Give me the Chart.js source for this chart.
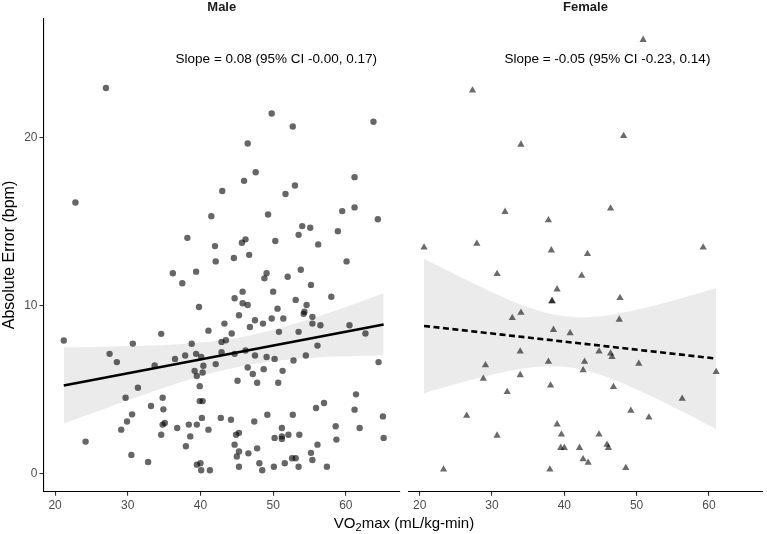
<!DOCTYPE html>
<html><head><meta charset="utf-8">
<script src="https://cdn.jsdelivr.net/npm/chart.js@4.4.1/dist/chart.umd.min.js"></script>
<style>
html,body{margin:0;padding:0;background:#fff;width:767px;height:534px;overflow:hidden;}
#wrap{position:relative;width:767px;height:534px;font-family:"Liberation Sans",Arial,Helvetica,sans-serif;}
#c1{position:absolute;left:0;top:0;width:404px;height:534px;}
#c2{position:absolute;left:404px;top:0;width:363px;height:534px;}
#xtitle{position:absolute;left:204px;width:400px;top:514px;line-height:17px;text-align:center;font-size:15px;color:#000;}
#xtitle sub{font-size:11px;line-height:0;vertical-align:-3px;}
</style></head><body>
<div id="wrap">
<canvas id="c1" width="404" height="534"></canvas>
<canvas id="c2" width="363" height="534"></canvas>
<div id="xtitle">VO<sub>2</sub>max (mL/kg-min)</div>
</div>
<script>
// ---- axis ticks / ranges ----
const xTicks = [20, 30, 40, 50, 60];
const yTicks = [0, 10, 20];
const X_MIN = 18.41, X_MAX = 67.45;
const Y_MIN = -1.08, Y_MAX = 27.08;

// ---- panel labels / annotations ----
const panelTitles = ['Male', 'Female'];
const slopeTexts = ['Slope = 0.08 (95% CI -0.00, 0.17)', 'Slope = -0.05 (95% CI -0.23, 0.14)'];
const slopeAnchorX = [64.3, 60.2];
const slopeAnchorY = [24.67, 24.67];

// ---- Male points ----
const maleVO2 = [27.0,22.8,49.8,52.7,63.8,46.5,47.6,46.0,43.0,61.2,51.7,53.0,41.5,49.3,59.5,61.2,64.4,54.0,55.1,58.9,53.5,38.2,46.2,45.7,50.3,42.0,56.2,46.7,44.6,42.1,60.1,
36.2,39.4,49.1,48.8,52.0,53.8,37.5,55.2,45.8,50.0,44.7,58.0,53.1,45.8,46.5,39.8,54.6,54.3,54.2,45.3,50.6,43.3,47.5,46.8,48.6,49.8,51.4,55.4,55.4,56.5,60.5,62.7,50.8,53.5,44.3,41.1,34.6,21.2,30.7,42.9,43.5,38.8,56.1,42.9,39.4,40.1,37.9,36.5,33.7,42.1,40.4,40.3,39.2,39.5,27.5,28.5,44.7,46.2,47.5,49.1,50.2,52.8,54.5,46.5,47.2,48.7,51.3,45.1,47.8,50.7,64.5,39.9,31.4,29.7,34.8,39.9,40.3,33.2,34.9,30.6,29.9,29.1,34.8,35.1,36.8,38.4,39.5,40.2,42.8,44.2,41.1,34.6,38.6,38.0,24.2,30.5,32.8,39.5,40.0,40.1,41.3,47.4,49.2,52.7,57.0,55.9,61.4,61.2,65.1,51.2,58.6,61.9,44.9,45.3,50.2,51.2,51.2,52.1,53.6,58.7,65.2,44.7,56.1,45.3,45.0,46.6,47.8,55.2,52.6,53.1,55.4,48.1,51.6,45.3,48.5,50.1,53.5,57.4];
const maleErr = [22.93,16.12,21.42,20.64,20.93,19.63,17.92,17.41,16.81,17.63,16.63,17.13,15.31,15.41,15.61,15.83,15.13,14.72,14.62,14.42,14.20,14.02,13.93,13.73,13.83,13.53,13.63,13.01,12.82,12.62,12.62,
11.91,12.01,11.91,11.61,11.71,12.12,11.32,11.22,10.82,10.82,10.43,10.52,10.33,10.13,10.03,9.91,10.03,9.63,9.50,9.42,9.81,8.92,9.12,8.72,8.92,9.22,9.22,9.32,8.92,8.82,8.82,8.33,8.43,8.43,8.33,8.50,8.31,7.91,7.73,7.83,7.93,7.72,7.61,7.22,7.12,6.93,7.02,6.82,6.43,6.51,6.41,6.01,6.11,5.80,7.12,6.63,7.12,7.32,7.02,6.93,6.82,6.72,7.02,6.31,5.92,6.21,6.11,5.52,5.40,5.40,6.63,5.20,5.10,4.51,4.51,4.31,4.31,4.02,3.82,3.52,3.10,2.61,2.91,3.01,2.71,2.91,2.91,3.31,3.31,3.20,2.61,2.31,2.21,1.62,1.90,1.11,0.69,0.53,0.61,0.20,0.20,3.10,3.50,3.50,4.20,3.90,4.71,3.80,3.40,2.71,2.81,2.71,2.31,2.42,2.12,2.21,2.06,2.31,2.31,2.02,2.12,1.72,1.72,1.31,1.01,1.20,1.50,1.23,0.91,0.91,0.81,0.61,0.61,0.40,0.20,0.40,0.40,0.40];

// ---- Female points ----
const femaleVO2 = [50.9,27.3,34.0,48.2,31.8,46.4,37.8,20.6,27.9,38.2,43.2,59.2,
30.7,42.4,39.0,38.3,38.3,47.7,34.0,32.8,47.6,38.5,40.8,33.9,44.8,46.4,46.6,29.1,37.8,42.8,50.3,42.6,28.8,33.9,61.0,38.1,46.8,32.1,56.3,26.5,49.2,51.7,39.0,30.7,39.6,44.8,39.5,40.0,42.1,45.9,46.1,42.6,43.3,23.3,38.0,48.5];
const femaleErr = [25.80,22.79,19.57,20.08,15.57,15.77,15.07,13.45,13.67,13.28,13.06,13.45,
11.87,11.77,10.96,10.25,10.25,10.45,9.57,9.26,9.16,8.55,8.35,7.26,7.26,7.14,6.94,6.45,6.65,6.65,6.53,6.15,5.64,5.86,6.04,5.24,5.15,4.85,4.45,3.44,3.74,3.34,2.93,2.26,2.33,2.33,1.53,1.53,1.53,1.72,1.53,0.85,0.65,0.24,0.24,0.34];

// ---- Fitted lines ----
const maleLineX = [21.2, 65.2];
const maleLineY = [5.24, 8.87];
const femaleLineX = [20.6, 61.0];
const femaleLineY = [8.78, 6.84];

// ---- 95% CI bands ----
const maleBandX     = [21.2, 25, 30, 35, 40, 45, 50, 55, 60, 65.2];
const maleBandLower = [2.97, 3.57, 4.36, 5.11, 5.79, 6.33, 6.69, 6.88, 6.97, 7.03];
const maleBandUpper = [7.51, 7.53, 7.58, 7.65, 7.79, 8.07, 8.55, 9.18, 9.91, 10.73];
const femaleBandX     = [20.6, 25, 30, 35, 40, 45, 50, 55, 61.0];
const femaleBandLower = [4.78, 5.32, 5.87, 6.29, 6.35, 5.87, 5.00, 3.98, 2.65];
const femaleBandUpper = [12.78, 11.82, 10.79, 9.89, 9.35, 9.35, 9.74, 10.28, 11.03];

const FONT = '"Liberation Sans", Arial, Helvetica, sans-serif';
Chart.defaults.font.family = FONT;
Chart.defaults.color = '#4D4D4D';

function pts(xs, ys) { return xs.map((x, i) => ({ x: x, y: ys[i] })); }

const slopeLabel = {
  id: 'slopeLabel',
  afterDatasetsDraw(chart, args, opts) {
    const ctx = chart.ctx, xs = chart.scales.x, ys = chart.scales.y;
    ctx.save();
    ctx.font = '13.5px ' + FONT;
    ctx.fillStyle = '#000';
    ctx.textAlign = 'right';
    ctx.textBaseline = 'middle';
    ctx.fillText(opts.text, xs.getPixelForValue(opts.x), ys.getPixelForValue(opts.y));
    ctx.restore();
  }
};

function xScale() {
  return {
    type: 'linear', min: X_MIN, max: X_MAX,
    afterBuildTicks: s => { s.ticks = xTicks.map(v => ({ value: v })); },
    afterFit: s => { s.height = 42.3; },
    border: { display: true, color: '#000', width: 1.1 },
    grid: { display: true, drawOnChartArea: false, drawTicks: true, tickLength: 4, color: '#333', lineWidth: 1.1 },
    ticks: { color: '#4D4D4D', font: { size: 12 }, padding: 3, maxRotation: 0 }
  };
}

function bandSets(bx, lo, hi) {
  return [
    { type: 'line', data: pts(bx, hi), borderColor: 'rgba(0,0,0,0)', borderWidth: 0, pointRadius: 0,
      fill: '+1', backgroundColor: '#EBEBEB', tension: 0.35, order: 2 },
    { type: 'line', data: pts(bx, lo), borderColor: 'rgba(0,0,0,0)', borderWidth: 0, pointRadius: 0,
      fill: false, tension: 0.35, order: 3 }
  ];
}

// Male panel
new Chart(document.getElementById('c1'), {
  type: 'scatter',
  data: { datasets: [
    { type: 'line', data: pts(maleLineX, maleLineY), borderColor: '#000', borderWidth: 2.6, pointRadius: 0, fill: false, order: 0 },
    { type: 'scatter', data: pts(maleVO2, maleErr), backgroundColor: 'rgba(0,0,0,0.6)', borderWidth: 0, pointRadius: 3.2, order: 1 }
  ].concat(bandSets(maleBandX, maleBandLower, maleBandUpper)) },
  options: {
    responsive: false, animation: false, events: [],
    layout: { padding: { top: 0, left: 0, right: 4, bottom: 0 } },
    plugins: {
      legend: { display: false }, tooltip: { enabled: false },
      title: { display: true, text: panelTitles[0], fullSize: false, color: '#1A1A1A',
               font: { size: 13, weight: 'bold' }, padding: { top: 0, bottom: 2.7 } },
      slopeLabel: { text: slopeTexts[0], x: slopeAnchorX[0], y: slopeAnchorY[0] }
    },
    scales: {
      x: xScale(),
      y: {
        type: 'linear', min: Y_MIN, max: Y_MAX,
        afterBuildTicks: s => { s.ticks = yTicks.map(v => ({ value: v })); },
        afterFit: s => { s.width = 43.5; },
        border: { display: true, color: '#000', width: 1.1 },
        grid: { display: true, drawOnChartArea: false, drawTicks: true, tickLength: 4, color: '#333', lineWidth: 1.1 },
        ticks: { color: '#4D4D4D', font: { size: 12 }, padding: 2 },
        title: { display: true, text: 'Absolute Error (bpm)', color: '#000', font: { size: 16 }, padding: { top: 0, bottom: 0 } }
      }
    }
  },
  plugins: [slopeLabel]
});

// Female panel
new Chart(document.getElementById('c2'), {
  type: 'scatter',
  data: { datasets: [
    { type: 'line', data: pts(femaleLineX, femaleLineY), borderColor: '#000', borderWidth: 2.6, borderDash: [6, 3.5], pointRadius: 0, fill: false, order: 0 },
    { type: 'scatter', data: pts(femaleVO2, femaleErr), backgroundColor: 'rgba(0,0,0,0.58)', borderWidth: 0, pointRadius: 4.2, pointStyle: 'triangle', order: 1 }
  ].concat(bandSets(femaleBandX, femaleBandLower, femaleBandUpper)) },
  options: {
    responsive: false, animation: false, events: [],
    layout: { padding: { top: 0, left: 3.3, right: 2, bottom: 0 } },
    plugins: {
      legend: { display: false }, tooltip: { enabled: false },
      title: { display: true, text: panelTitles[1], fullSize: false, color: '#1A1A1A',
               font: { size: 13, weight: 'bold' }, padding: { top: 0, bottom: 2.7 } },
      slopeLabel: { text: slopeTexts[1], x: slopeAnchorX[1], y: slopeAnchorY[1] }
    },
    scales: {
      x: xScale(),
      y: { type: 'linear', min: Y_MIN, max: Y_MAX, display: false }
    }
  },
  plugins: [slopeLabel]
});
</script>
</body></html>
